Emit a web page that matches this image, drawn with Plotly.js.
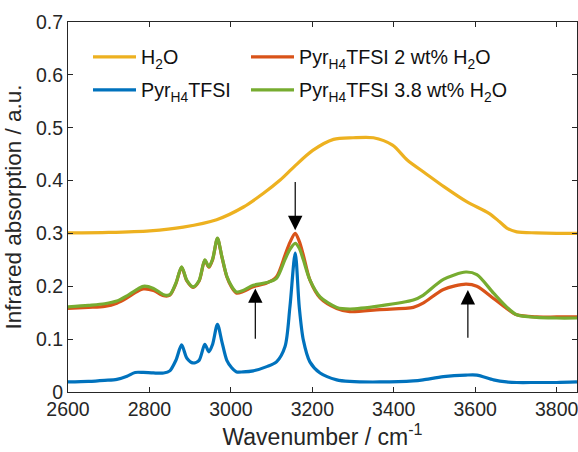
<!DOCTYPE html>
<html>
<head>
<meta charset="utf-8">
<script src="https://cdn.plot.ly/plotly-3.0.1.min.js"></script>
<style>html,body{margin:0;padding:0;background:#fff;}#chart{width:578px;height:452px;}</style>
</head>
<body>
<div id="chart"></div>
<script>
// Wavenumbers (cm^-1) for the ionic-liquid spectra
const wn = [2600, 2650, 2690, 2720, 2745, 2765, 2785, 2810, 2835, 2850, 2865, 2879, 2892, 2907, 2922, 2936, 2946, 2955, 2967, 2978, 2990, 3002, 3014, 3030, 3055, 3088, 3112, 3133, 3145, 3158, 3168, 3178, 3194, 3219, 3260, 3292, 3366, 3448, 3472, 3522, 3577, 3604, 3645, 3677, 3702, 3751, 3800, 3850];
// Pyr_H4 TFSI (dry)
const pyrDry = [0.019, 0.020, 0.022, 0.024, 0.030, 0.037, 0.037, 0.036, 0.036, 0.040, 0.060, 0.089, 0.064, 0.055, 0.060, 0.090, 0.076, 0.090, 0.128, 0.095, 0.060, 0.046, 0.038, 0.038, 0.040, 0.048, 0.057, 0.086, 0.161, 0.263, 0.160, 0.098, 0.057, 0.036, 0.023, 0.020, 0.019, 0.021, 0.023, 0.029, 0.032, 0.032, 0.023, 0.019, 0.018, 0.018, 0.018, 0.019];
// Pyr_H4 TFSI 2 wt% H2O
const pyr2 = [0.158, 0.160, 0.162, 0.168, 0.178, 0.188, 0.195, 0.192, 0.182, 0.183, 0.205, 0.236, 0.210, 0.198, 0.210, 0.249, 0.236, 0.250, 0.290, 0.255, 0.218, 0.198, 0.187, 0.190, 0.199, 0.206, 0.218, 0.259, 0.283, 0.300, 0.285, 0.259, 0.212, 0.178, 0.158, 0.152, 0.156, 0.160, 0.168, 0.194, 0.204, 0.200, 0.177, 0.158, 0.146, 0.142, 0.142, 0.142];
// Pyr_H4 TFSI 3.8 wt% H2O
const pyr38 = [0.161, 0.164, 0.167, 0.172, 0.182, 0.192, 0.200, 0.196, 0.184, 0.184, 0.206, 0.237, 0.211, 0.199, 0.211, 0.250, 0.237, 0.251, 0.291, 0.256, 0.219, 0.200, 0.189, 0.192, 0.202, 0.207, 0.215, 0.251, 0.270, 0.281, 0.272, 0.250, 0.212, 0.180, 0.160, 0.157, 0.163, 0.174, 0.183, 0.213, 0.227, 0.222, 0.187, 0.161, 0.146, 0.141, 0.140, 0.140];
// Water spectrum
const wnW = [2600, 2700, 2801, 2883, 2965, 3031, 3080, 3121, 3155, 3201, 3252, 3300, 3350, 3397, 3433, 3479, 3524, 3579, 3634, 3660, 3680, 3702, 3750, 3800, 3850];
const water = [0.301, 0.302, 0.305, 0.312, 0.326, 0.350, 0.376, 0.401, 0.426, 0.457, 0.478, 0.481, 0.481, 0.467, 0.439, 0.413, 0.388, 0.360, 0.338, 0.322, 0.309, 0.303, 0.301, 0.300, 0.300];
const xTicks = [2600, 2800, 3000, 3200, 3400, 3600, 3800];
const names = ['H<sub>2</sub>O', 'Pyr<sub>H4</sub>TFSI', 'Pyr<sub>H4</sub>TFSI 2 wt% H<sub>2</sub>O', 'Pyr<sub>H4</sub>TFSI 3.8 wt% H<sub>2</sub>O'];
const colors = ['#EDB120', '#0072BD', '#D95319', '#77AC30'];
// arrows: [x, tipY, tailY]
const arrows = [[3158, 0.306, 0.40], [3060, 0.196, 0.098], [3582, 0.193, 0.100]];

const lw = 3.2;
const traces = [
  {x: wnW, y: water, name: names[0], legend: 'legend', line: {color: colors[0]}},
  {x: wn, y: pyrDry, name: names[1], legend: 'legend2', line: {color: colors[1]}},
  {x: wn, y: pyr2, name: names[2], legend: 'legend3', line: {color: colors[2]}},
  {x: wn, y: pyr38, name: names[3], legend: 'legend4', line: {color: colors[3]}}
].map(t => Object.assign(t, {type: 'scatter', mode: 'lines', line: Object.assign(t.line, {width: lw, shape: 'spline', smoothing: 0.8})}));

const axisCommon = {
  showline: true, mirror: 'allticks', linecolor: '#262626', linewidth: 1,
  ticks: 'inside', ticklen: 5, tickcolor: '#262626', tickwidth: 1,
  showgrid: false, zeroline: false, ticklabeloverflow: 'allow',
  tickfont: {family: 'Liberation Sans, Arial, sans-serif', size: 19.5, color: '#262626'}
};

function leg(x, y) {
  return {orientation: 'v', x: x, xanchor: 'left', y: y, yanchor: 'middle',
    bgcolor: 'rgba(0,0,0,0)', borderwidth: 0, itemwidth: 43,
    font: {size: 19.7, color: '#111'}};
}

const layout = {
  width: 578, height: 452,
  margin: {l: 68, r: 1, t: 22, b: 60},
  paper_bgcolor: '#fff', plot_bgcolor: '#fff',
  font: {family: 'Liberation Sans, Arial, sans-serif', color: '#262626'},
  xaxis: Object.assign({}, axisCommon, {
    range: [2600, 3850], tickvals: xTicks,
    title: {text: 'Wavenumber / cm<sup>-1</sup>', font: {size: 23, color: '#262626'}, standoff: 5}
  }),
  yaxis: Object.assign({}, axisCommon, {
    range: [0, 0.7], dtick: 0.1, tick0: 0,
    title: {text: 'Infrared absorption / a.u.', font: {size: 22.5, color: '#262626'}, standoff: 8}
  }),
  showlegend: true,
  legend: leg(0.0393, 0.9054),
  legend2: leg(0.0393, 0.8162),
  legend3: leg(0.3497, 0.9054),
  legend4: leg(0.3497, 0.8162),
  annotations: arrows.map(a => ({
    x: a[0], y: a[1], ax: a[0], ay: a[2], axref: 'x', ayref: 'y', xref: 'x', yref: 'y',
    text: '', showarrow: true, arrowhead: 2, arrowsize: 2.4, arrowwidth: 1.2, arrowcolor: '#000', standoff: 0
  }))
};

Plotly.newPlot('chart', traces, layout, {displayModeBar: false, staticPlot: true});
</script>
</body>
</html>
